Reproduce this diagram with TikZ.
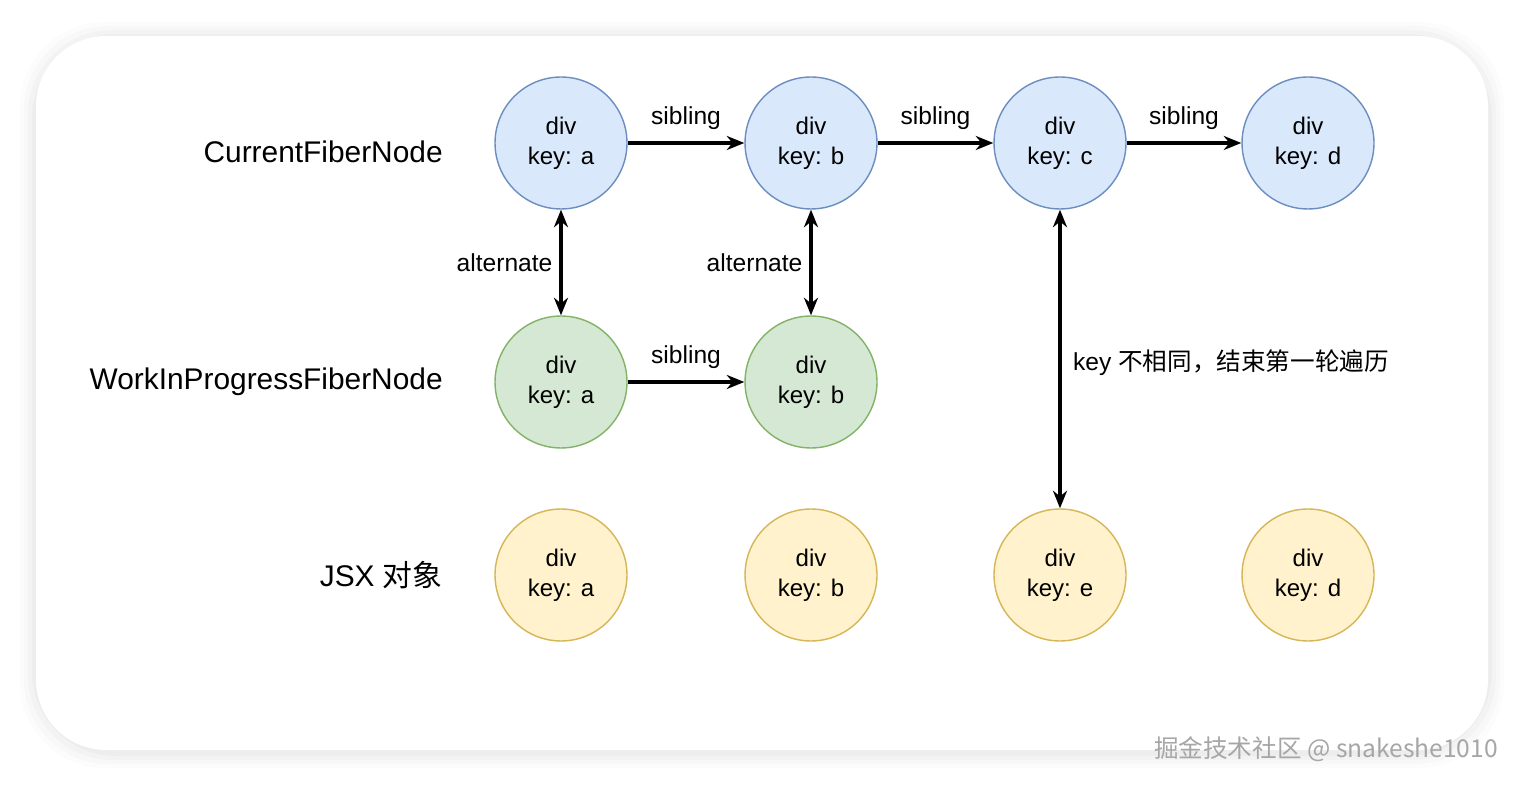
\documentclass[tikz,border=0pt]{standalone}
\usepackage{fontspec}
\setmainfont{Liberation Sans}
\newfontfamily\cjk{Noto Sans CJK SC}
\usetikzlibrary{arrows.meta}
\definecolor{bfill}{HTML}{DAE8FC}\definecolor{bline}{HTML}{6C8EBF}
\definecolor{gfill}{HTML}{D5E8D4}\definecolor{gline}{HTML}{82B366}
\definecolor{yfill}{HTML}{FFF2CC}\definecolor{yline}{HTML}{D6B656}
\begin{document}
\begin{tikzpicture}[x=0.02cm,y=-0.02cm,
 fib/.style={circle,minimum size=2.64cm,inner sep=0,align=center,font=\fontsize{13.7}{17}\selectfont,line width=0.8pt},
 blue/.style={fib,fill=bfill,draw=bline},
 green/.style={fib,fill=gfill,draw=gline},
 yel/.style={fib,fill=yfill,draw=yline},
 arr/.style={-{Stealth[length=10pt,width=8pt]},line width=1.8pt},
 darr/.style={{Stealth[length=10pt,width=8pt]}-{Stealth[length=10pt,width=8pt]},line width=1.8pt},
 lab/.style={font=\fontsize{14}{16}\selectfont,inner sep=1pt},
 row/.style={font=\fontsize{17}{20}\selectfont,anchor=east,inner sep=0pt}]
\useasboundingbox (0,0) rectangle (1524,786);
\fill[white] (0,0) rectangle (1524,786);
\foreach \i/\o in {16/0.012,12/0.015,8/0.02,4/0.025}
  \fill[black,opacity=\o,rounded corners=48] (36-\i,38-\i) rectangle (1488+\i,752+\i);
\fill[white,rounded corners=40] (36,36) rectangle (1488,750);
\node[row] (r1) at (443,152) {CurrentFiberNode};
\node[row] (r2) at (443,382) {WorkInProgressFiberNode};
\node[row] (r3) at (443,575) {JSX {\cjk 对象}};
\node[blue] (ca) at (561,143) {div\\key: a};
\node[blue] (cb) at (811,143) {div\\key: b};
\node[blue] (cc) at (1060,143) {div\\key: c};
\node[blue] (cd) at (1308,143) {div\\key: d};
\node[green] (wa) at (561,382) {div\\key: a};
\node[green] (wb) at (811,382) {div\\key: b};
\node[yel] (ja) at (561,575) {div\\key: a};
\node[yel] (jb) at (811,575) {div\\key: b};
\node[yel] (je) at (1060,575) {div\\key: e};
\node[yel] (jd) at (1308,575) {div\\key: d};
\draw[arr] (ca) -- node[lab,above=6pt] (s1) {sibling} (cb);
\draw[arr] (cb) -- node[lab,above=6pt] (s2) {sibling} (cc);
\draw[arr] (cc) -- node[lab,above=6pt] (s3) {sibling} (cd);
\draw[arr] (wa) -- node[lab,above=6pt] (s4) {sibling} (wb);
\draw[darr] (ca) -- node[lab,left=3pt] (a1) {alternate} (wa);
\draw[darr] (cb) -- node[lab,left=3pt] (a2) {alternate} (wb);
\draw[darr] (cc) -- (je);
\node[lab,anchor=west] (k) at (1071,363) {key {\cjk 不相同，结束第一轮遍历}};
\node[anchor=east,text=gray!70,font=\cjk\fontsize{14}{16}\selectfont] (wm) at (1504,749) {掘金技术社区 @ snakeshe1010};
\end{tikzpicture}
\end{document}
